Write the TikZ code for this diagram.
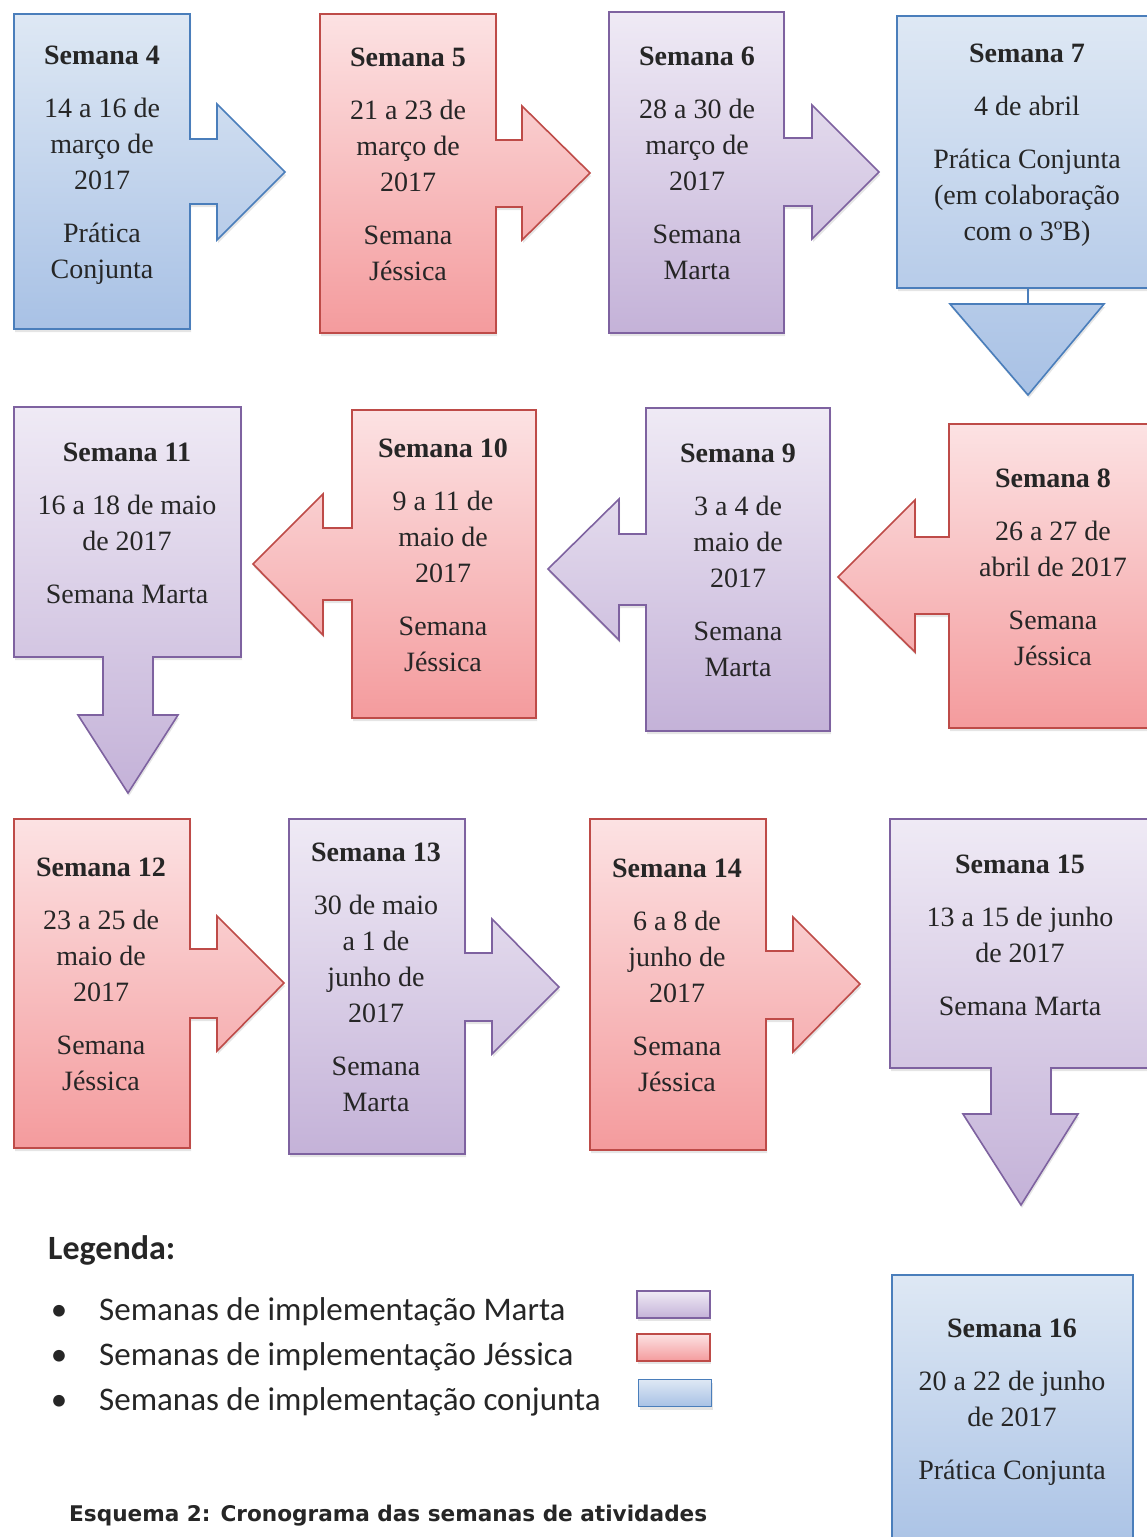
\documentclass[tikz,border=0pt]{standalone}
\usepackage{fontspec}
\setmainfont{Liberation Serif}
\newfontfamily\legfont{Carlito}
\newfontfamily\capfont{DejaVu Sans}
\usetikzlibrary{shadows}

\definecolor{bluetop}{HTML}{DEE8F4}
\definecolor{bluebot}{HTML}{A8C1E5}
\definecolor{blueline}{HTML}{4A7EBB}
\definecolor{redtop}{HTML}{FCE2E3}
\definecolor{redbot}{HTML}{F49B9D}
\definecolor{redline}{HTML}{BE4B48}
\definecolor{martatop}{HTML}{EFEAF5}
\definecolor{martabot}{HTML}{C4B2D8}
\definecolor{martaline}{HTML}{7E62A0}

\begin{document}
\begin{tikzpicture}[x=1pt, y=-1pt,
	shade/.style={line width=1.6pt, drop shadow={opacity=0.2, shadow xshift=1pt, shadow yshift=-3pt}},
	conjunta/.style={shade, draw=blueline, top color=bluetop, bottom color=bluebot},
	jessica/.style={shade, draw=redline, top color=redtop, bottom color=redbot},
	marta/.style={shade, draw=martaline, top color=martatop, bottom color=martabot},
	wk/.style={align=center, anchor=north, inner sep=0pt, text=black!85, font=\fontsize{28}{36}\selectfont},
	legtxt/.style={anchor=base west, inner sep=0pt, text=black!85, font=\legfont\fontsize{33}{40}\selectfont},
	swatch/.style={minimum width=73pt, minimum height=27pt, inner sep=0pt, line width=1.4pt}]
	\clip (0,0) rectangle (1147,1537);
	\fill[white] (0,0) rectangle (1147,1537);

	% row 1
	\draw[conjunta] (14,14) -- (190,14) -- (190,139) -- (217,139) -- (217,104) -- (285,172) -- (217,240) -- (217,204) -- (190,204) -- (190,329) -- (14,329) -- cycle;
	\draw[jessica] (320,14) -- (496,14) -- (496,140) -- (522,140) -- (522,106) -- (590,173) -- (522,240) -- (522,207) -- (496,207) -- (496,333) -- (320,333) -- cycle;
	\draw[marta] (609,12) -- (784,12) -- (784,138) -- (812,138) -- (812,105) -- (879,172) -- (812,239) -- (812,206) -- (784,206) -- (784,333) -- (609,333) -- cycle;
	\draw[conjunta] (897,16) -- (1160,16) -- (1160,288) -- (1028,288) -- (1028,304) -- (1104,304) -- (1028,395) -- (950,304) -- (1028,304) -- (1028,288) -- (897,288) -- cycle;
	\node (S4) at (102,46) [wk] {\textbf{Semana 4}\\[17pt]14 a 16 de\\março de\\2017\\[17pt]Prática\\Conjunta};
	\node (S5) at (408,48) [wk] {\textbf{Semana 5}\\[17pt]21 a 23 de\\março de\\2017\\[17pt]Semana\\Jéssica};
	\node (S6) at (697,47) [wk] {\textbf{Semana 6}\\[17pt]28 a 30 de\\março de\\2017\\[17pt]Semana\\Marta};
	\node (S7) at (1027,44) [wk] {\textbf{Semana 7}\\[17pt]4 de abril\\[17pt]Prática Conjunta\\(em colaboração\\com o 3ºB)};

	% row 2
	\draw[jessica] (949,424) -- (1160,424) -- (1160,728) -- (949,728) -- (949,614) -- (915,614) -- (915,652) -- (838,577) -- (915,500) -- (915,537) -- (949,537) -- cycle;
	\draw[marta] (646,408) -- (830,408) -- (830,731) -- (646,731) -- (646,605) -- (619,605) -- (619,640) -- (548,569) -- (619,499) -- (619,534) -- (646,534) -- cycle;
	\draw[jessica] (352,410) -- (536,410) -- (536,718) -- (352,718) -- (352,600) -- (323,600) -- (323,635) -- (253,564) -- (323,494) -- (323,528) -- (352,528) -- cycle;
	\draw[marta] (14,407) -- (241,407) -- (241,657) -- (153,657) -- (153,715) -- (178,715) -- (128,793) -- (78,715) -- (103,715) -- (103,657) -- (14,657) -- cycle;
	\node (S8) at (1053,469) [wk] {\textbf{Semana 8}\\[17pt]26 a 27 de\\abril de 2017\\[17pt]Semana\\Jéssica};
	\node (S9) at (738,444) [wk] {\textbf{Semana 9}\\[17pt]3 a 4 de\\maio de\\2017\\[17pt]Semana\\Marta};
	\node (S10) at (443,439) [wk] {\textbf{Semana 10}\\[17pt]9 a 11 de\\maio de\\2017\\[17pt]Semana\\Jéssica};
	\node (S11) at (127,443) [wk] {\textbf{Semana 11}\\[17pt]16 a 18 de maio\\de 2017\\[17pt]Semana Marta};

	% row 3
	\draw[jessica] (14,819) -- (190,819) -- (190,949) -- (217,949) -- (217,916) -- (284,983) -- (217,1051) -- (217,1018) -- (190,1018) -- (190,1148) -- (14,1148) -- cycle;
	\draw[marta] (289,819) -- (465,819) -- (465,953) -- (492,953) -- (492,919) -- (559,987) -- (492,1054) -- (492,1021) -- (465,1021) -- (465,1154) -- (289,1154) -- cycle;
	\draw[jessica] (590,819) -- (766,819) -- (766,951) -- (793,951) -- (793,917) -- (860,984) -- (793,1052) -- (793,1019) -- (766,1019) -- (766,1150) -- (590,1150) -- cycle;
	\draw[marta] (890,819) -- (1160,819) -- (1160,1068) -- (1051,1068) -- (1051,1114) -- (1078,1114) -- (1021,1205) -- (963,1114) -- (991,1114) -- (991,1068) -- (890,1068) -- cycle;
	\node (S12) at (101,858) [wk] {\textbf{Semana 12}\\[17pt]23 a 25 de\\maio de\\2017\\[17pt]Semana\\Jéssica};
	\node (S13) at (376,843) [wk] {\textbf{Semana 13}\\[17pt]30 de maio\\a 1 de\\junho de\\2017\\[17pt]Semana\\Marta};
	\node (S14) at (677,859) [wk] {\textbf{Semana 14}\\[17pt]6 a 8 de\\junho de\\2017\\[17pt]Semana\\Jéssica};
	\node (S15) at (1020,855) [wk] {\textbf{Semana 15}\\[17pt]13 a 15 de junho\\de 2017\\[17pt]Semana Marta};

	% last week
	\draw[conjunta] (892,1275) rectangle (1133,1560);
	\node (S16) at (1012,1319) [wk] {\textbf{Semana 16}\\[17pt]20 a 22 de junho\\de 2017\\[17pt]Prática Conjunta};

	% legend
	\node (leg) at (48,1259) [anchor=base west, inner sep=0pt, text=black!85, font=\legfont\bfseries\fontsize{34}{40}\selectfont] {Legenda:};
	\node (b1) at (59,1320) [legtxt, anchor=base] {•};
	\node (b2) at (59,1365) [legtxt, anchor=base] {•};
	\node (b3) at (59,1410) [legtxt, anchor=base] {•};
	\node (l1) at (99,1320) [legtxt] {Semanas de implementação Marta};
	\node (l2) at (99,1365) [legtxt] {Semanas de implementação Jéssica};
	\node (l3) at (99,1410) [legtxt] {Semanas de implementação conjunta};
	\node (swM) at (673.5,1304.5) [swatch, marta] {};
	\node (swJ) at (673.5,1347.5) [swatch, jessica] {};
	\node (swC) at (675,1393) [swatch, conjunta] {};

	\node (cap) at (69,1521) [anchor=base west, inner sep=0pt, text=black!85, font=\capfont\bfseries\fontsize{21.6}{26}\selectfont] {Esquema 2: Cronograma das semanas de atividades};
\end{tikzpicture}
\end{document}
